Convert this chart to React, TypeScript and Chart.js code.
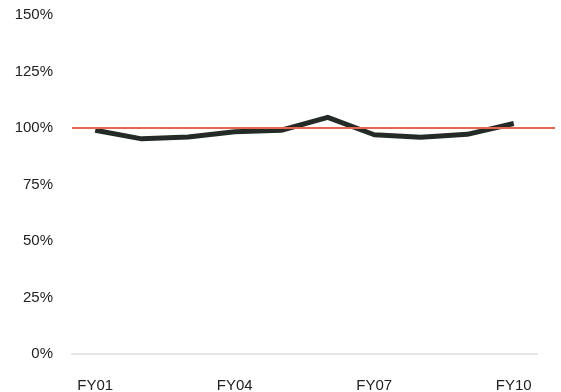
import React, { useEffect, useRef } from "react";
import { Chart, registerables } from "chart.js";

Chart.register(...registerables);

const categories = ["FY01", "FY02", "FY03", "FY04", "FY05", "FY06", "FY07", "FY08", "FY09", "FY10"];
const shownLabels = ["FY01", "FY04", "FY07", "FY10"];
const ratioValues = [99, 95.2, 96, 98.3, 99, 104.7, 97, 95.9, 97.2, 102];
const targetValue = 100;
const yTicks = [0, 25, 50, 75, 100, 125, 150];

// Horizontal target line, drawn a little past the right edge of the plot area.
const targetLinePlugin = {
  id: "targetLine",
  afterDatasetsDraw(chart: any) {
    const { ctx, chartArea, scales } = chart;
    const y = scales.y.getPixelForValue(targetValue);
    ctx.save();
    ctx.strokeStyle = "#e5654e";
    ctx.lineWidth = 2;
    ctx.beginPath();
    ctx.moveTo(chartArea.left, y);
    ctx.lineTo(chartArea.right + 18, y);
    ctx.stroke();
    ctx.restore();
  },
};

export default function App() {
  const canvasRef = useRef<HTMLCanvasElement | null>(null);

  useEffect(() => {
    if (!canvasRef.current) return;
    const chart = new Chart(canvasRef.current, {
      type: "line",
      data: {
        labels: categories,
        datasets: [
          {
            data: ratioValues,
            borderColor: "#242b27",
            borderWidth: 5,
            pointRadius: 0,
            tension: 0,
            borderJoinStyle: "round",
            borderCapStyle: "butt",
          },
        ],
      },
      options: {
        animation: false,
        responsive: true,
        maintainAspectRatio: false,
        layout: { padding: { top: 15, right: 24, bottom: 0, left: 0 } },
        plugins: { legend: { display: false }, tooltip: { enabled: false } },
        scales: {
          x: {
            offset: true,
            grid: { display: false, drawTicks: false },
            border: { display: true, color: "#e6e6e6", width: 2 },
            afterFit: (s: any) => {
              s.height = 38;
            },
            ticks: {
              autoSkip: false,
              maxRotation: 0,
              padding: 23,
              color: "#222",
              font: { family: "'Liberation Sans', Arial, sans-serif", size: 15 },
              callback: (_v: any, i: number) =>
                shownLabels.includes(categories[i]) ? categories[i] : "",
            },
          },
          y: {
            min: yTicks[0],
            max: yTicks[yTicks.length - 1],
            grid: { display: false, drawTicks: false },
            border: { display: false },
            afterFit: (s: any) => {
              s.width = 72;
              s.paddingTop = 0;
              s.paddingBottom = 0;
            },
            afterBuildTicks: (s: any) => {
              s.ticks = yTicks.map((v) => ({ value: v }));
            },
            ticks: {
              padding: 19,
              color: "#222",
              font: { family: "'Liberation Sans', Arial, sans-serif", size: 15 },
              callback: (v: any) => v + "%",
            },
          },
        },
      },
      plugins: [targetLinePlugin],
    });
    return () => chart.destroy();
  }, []);

  return (
    <div style={{ position: "fixed", left: 0, top: 0, width: 561, height: 392, background: "#fff" }}>
      <canvas ref={canvasRef} />
    </div>
  );
}
